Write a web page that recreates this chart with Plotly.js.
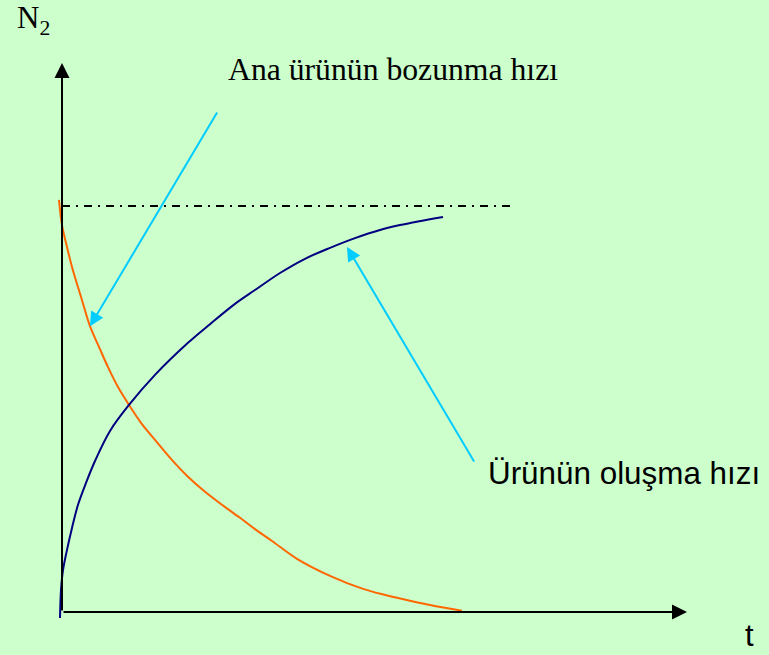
<!DOCTYPE html>
<html>
<head>
<meta charset="utf-8">
<script src="https://cdn.plot.ly/plotly-3.0.1.min.js"></script>
<style>html,body{margin:0;padding:0;background:#CCFFCC;}#chart{width:769px;height:655px;}</style>
</head>
<body>
<div id="chart"></div>
<script>
// Decay of parent product (orange)
const decayT = [-0.075, 0, 0.125, 0.25, 0.5, 0.7, 0.925, 1.15, 1.4, 1.675, 1.975, 2.325, 2.725, 3.15, 3.575, 4.0, 4.45, 4.825, 5.25, 5.875, 6.7, 7.525, 8.375, 9.2, 10.0];
const decayN = [1.015, 0.953, 0.899, 0.850, 0.768, 0.704, 0.653, 0.603, 0.554, 0.510, 0.466, 0.424, 0.377, 0.333, 0.296, 0.264, 0.232, 0.204, 0.175, 0.131, 0.089, 0.057, 0.035, 0.017, 0.003];
// Formation of product (navy)
const growT = [-0.05, -0.025, 0.025, 0.125, 0.25, 0.4, 0.6, 0.825, 1.2, 1.675, 2.325, 3.15, 3.7, 4.325, 4.825, 5.45, 6.075, 6.7, 7.325, 7.95, 8.45, 9.525];
const growN = [-0.015, 0.054, 0.103, 0.153, 0.207, 0.264, 0.318, 0.372, 0.446, 0.510, 0.584, 0.663, 0.709, 0.759, 0.793, 0.835, 0.870, 0.897, 0.921, 0.941, 0.953, 0.973];
// Saturation reference level
const refT = [0, 11.25];
const refN = [1, 1];
// Axis arrow extents
const xAxisEnd = 15.625;
const yAxisEnd = 1.352;
// Pointer arrows: [tailT, tailN, tipT, tipN]
const pointerDecay = [3.9, 1.234, 0.7, 0.704];
const pointerGrow = [10.325, 0.367, 7.125, 0.899];
// Labels
const labelYAxis = 'N<sub>2</sub>';
const labelXAxis = 't';
const labelDecay = 'Ana ürünün bozunma hızı';
const labelGrow = 'Ürünün oluşma hızı';

const traces = [
  {x: refT, y: refN, mode: 'lines', line: {color: '#000000', width: 2, dash: '8px,6px,2px,6px'}, hoverinfo: 'skip'},
  {x: decayT, y: decayN, mode: 'lines', line: {color: '#FF6600', width: 2, shape: 'spline', smoothing: 1}, hoverinfo: 'skip'},
  {x: growT, y: growN, mode: 'lines', line: {color: '#000080', width: 2, shape: 'spline', smoothing: 1}, hoverinfo: 'skip'}
];

function arrow(tailX, tailY, tipX, tipY, color, size) {
  return {x: tipX, y: tipY, ax: tailX, ay: tailY, xref: 'x', yref: 'y', axref: 'x', ayref: 'y',
    showarrow: true, arrowhead: 2, arrowsize: size, arrowwidth: 2, arrowcolor: color, text: '', standoff: 0, startstandoff: 0};
}

const serif = 'Liberation Serif, Times New Roman, serif';
const sans = 'Liberation Sans, Arial, sans-serif';

const annotations = [
  arrow(0, 0, xAxisEnd, 0, '#000000', 1.5),
  arrow(0, 0, 0, yAxisEnd, '#000000', 1.5),
  arrow(pointerDecay[0], pointerDecay[1], pointerDecay[2], pointerDecay[3], '#00CCFF', 1.4),
  arrow(pointerGrow[0], pointerGrow[1], pointerGrow[2], pointerGrow[3], '#00CCFF', 1.4),
  {text: labelYAxis, xref: 'paper', yref: 'paper', x: 15/769, y: 1 - 20/655, xanchor: 'left', yanchor: 'middle', showarrow: false, font: {family: serif, size: 31, color: '#000'}},
  {text: labelDecay, xref: 'paper', yref: 'paper', x: 393/769, y: 1 - 70/655, xanchor: 'center', yanchor: 'middle', showarrow: false, font: {family: serif, size: 31.7, color: '#000'}},
  {text: labelGrow, xref: 'paper', yref: 'paper', x: 624/769, y: 1 - 473/655, xanchor: 'center', yanchor: 'middle', showarrow: false, font: {family: sans, size: 31.4, color: '#000'}},
  {text: labelXAxis, xref: 'paper', yref: 'paper', x: 749/769, y: 0, xanchor: 'center', yanchor: 'bottom', showarrow: false, font: {family: sans, size: 31, color: '#000'}}
];

const hidden = {showgrid: false, zeroline: false, showticklabels: false, showline: false, ticks: '', fixedrange: true};

const layout = {
  width: 769, height: 655,
  margin: {l: 0, r: 0, t: 0, b: 0, pad: 0},
  paper_bgcolor: '#CCFFCC', plot_bgcolor: '#CCFFCC',
  showlegend: false, hovermode: false,
  xaxis: Object.assign({range: [-1.55, 17.675]}, hidden),
  yaxis: Object.assign({range: [-0.1059, 1.5074]}, hidden),
  annotations: annotations
};

Plotly.newPlot('chart', traces, layout, {displayModeBar: false, staticPlot: true});
</script>
</body>
</html>
